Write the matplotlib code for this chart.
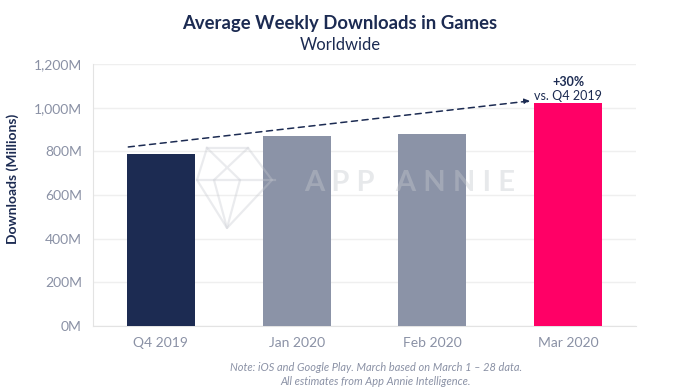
import numpy as np
import matplotlib.pyplot as plt
from matplotlib.ticker import FuncFormatter

plt.rcParams['font.family'] = ['Lato', 'DejaVu Sans']

categories = ["Q4 2019", "Jan 2020", "Feb 2020", "Mar 2020"]
downloads = [788, 872, 878, 1021]
colors = ["#1c2b52", "#8b93a7", "#8b93a7", "#ff0066"]

navy = "#1c2b52"
gray = "#8a91a5"

W, H = 680, 392
fig = plt.figure(figsize=(6.8, 3.92), dpi=100)
ax = fig.add_axes([93 / W, 66 / H, 543 / W, 262 / H])

x = np.arange(len(categories))
ax.bar(x, downloads, width=0.5, color=colors, zorder=3)

ax.set_xlim(-0.5, 3.5)
ax.set_ylim(0, 1200)
ax.set_yticks(np.arange(0, 1201, 200))
ax.yaxis.set_major_formatter(FuncFormatter(lambda v, p: f"{int(v):,}M"))
ax.set_xticks(x)
ax.set_xticklabels(categories)
ax.tick_params(axis='both', length=0, colors=gray, labelsize=10, pad=8)
ax.grid(axis='y', color='#efefef', linewidth=1, zorder=0)

for s in ['top', 'right']:
    ax.spines[s].set_visible(False)
for s in ['left', 'bottom']:
    ax.spines[s].set_color('#e3e3e3')

ax.set_ylabel("Downloads (Millions)", color=navy, fontsize=10, fontweight='bold')
ax.yaxis.set_label_coords(-0.136, 0.56)

# watermark (logo + name)
wm = dict(color='#c5c8cf', alpha=0.35, lw=1.6, transform=fig.transFigure, zorder=4)
def px(pts):
    return [p[0] / W for p in pts], [1 - p[1] / H for p in pts]
fig.add_artist(plt.Line2D(*px([(207, 148), (248, 148), (272, 180), (227, 228),
                               (197, 180), (207, 148)]), **wm))
fig.add_artist(plt.Line2D(*px([(197, 180), (275, 180)]), **wm))
fig.add_artist(plt.Line2D(*px([(207, 148), (240, 180), (227, 228), (214, 180), (248, 148)]), **wm))
fig.text(410 / W, 1 - 183 / H, "A P P   A N N I E", color='#c5c8cf', alpha=0.4,
         fontsize=21, fontweight='bold', ha='center', va='center', zorder=4)

# growth arrow
ax.annotate("", xy=(2.72, 1031), xytext=(-0.24, 820),
            arrowprops=dict(arrowstyle='-|>', linestyle=(0, (4, 3)), color=navy,
                            lw=1.1, mutation_scale=8, shrinkA=0, shrinkB=0), zorder=5)
ax.text(3, 1118, "+30%", color=navy, fontsize=9, fontweight='bold', ha='center', va='center')
ax.text(3, 1054, "vs. Q4 2019", color=navy, fontsize=9, ha='center', va='center')

fig.text(0.5, 0.94, "Average Weekly Downloads in Games", ha='center', va='center',
         color=navy, fontsize=13.3, fontweight='bold')
fig.text(0.5, 0.885, "Worldwide", ha='center', va='center', color=navy, fontsize=12)

fig.text(376 / W, 0.063, "Note: iOS and Google Play. March based on March 1 \u2013 28 data.",
         ha='center', va='center', color=gray, fontsize=7.9, style='italic')
fig.text(376 / W, 0.028, "All estimates from App Annie Intelligence.",
         ha='center', va='center', color=gray, fontsize=7.9, style='italic')

fig.savefig("out.png", dpi=100)
